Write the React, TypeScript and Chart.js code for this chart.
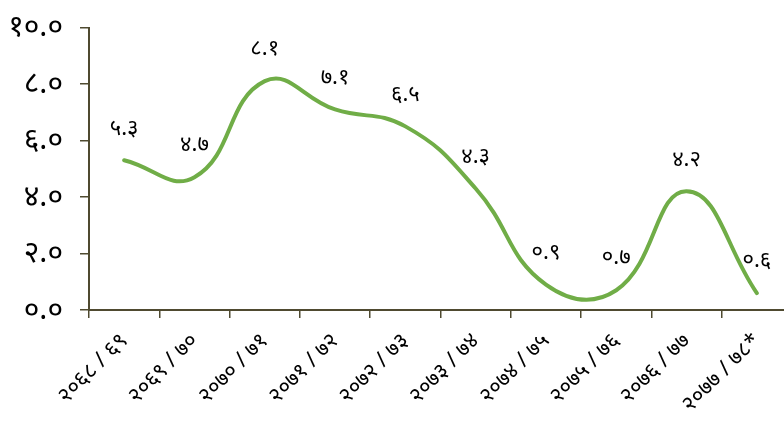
import React, { useEffect, useRef } from "react";
import { Chart, registerables } from "chart.js";

Chart.register(...registerables);

const categories = [
  "२०६८ / ६९",
  "२०६९ / ७०",
  "२०७० / ७१",
  "२०७१ / ७२",
  "२०७२ / ७३",
  "२०७३ / ७४",
  "२०७४ / ७५",
  "२०७५ / ७६",
  "२०७६ / ७७",
  "२०७७ / ७८*",
];
const values = [5.3, 4.7, 8.1, 7.1, 6.5, 4.3, 0.9, 0.7, 4.2, 0.6];
const valueLabels = ["५.३", "४.७", "८.१", "७.१", "६.५", "४.३", "०.९", "०.७", "४.२", "०.६"];
const yTickLabels = ["०.०", "२.०", "४.०", "६.०", "८.०", "१०.०"];

const AXIS = "#4f4a30";
const LINE = "#70ad47";
const FONT = "'Noto Sans', 'DejaVu Sans', sans-serif";

const labelPlugin = {
  id: "valueLabels",
  afterDatasetsDraw(chart: any) {
    const meta = chart.getDatasetMeta(0);
    const ctx = chart.ctx;
    ctx.save();
    ctx.fillStyle = "#000";
    ctx.font = `22px ${FONT}`;
    ctx.textAlign = "center";
    ctx.textBaseline = "middle";
    meta.data.forEach((pt: any, i: number) => {
      ctx.fillText(valueLabels[i], pt.x, pt.y - 32);
    });
    ctx.restore();
  },
};

export default function App() {
  const ref = useRef<HTMLCanvasElement>(null);
  useEffect(() => {
    if (!ref.current) return;
    const chart = new Chart(ref.current, {
      type: "line",
      data: {
        labels: categories,
        datasets: [
          {
            data: values,
            borderColor: LINE,
            borderWidth: 4,
            tension: 0.45,
            pointRadius: 0,
            fill: false,
            borderCapStyle: "round",
          },
        ],
      },
      options: {
        animation: false,
        responsive: false,
        maintainAspectRatio: false,
        layout: { padding: { top: 25, right: 8, left: 0, bottom: 0 } },
        plugins: { legend: { display: false }, tooltip: { enabled: false } },
        scales: {
          x: {
            offset: true,
            grid: {
              offset: true,
              drawOnChartArea: false,
              tickLength: 8,
              color: AXIS,
              lineWidth: 1.5,
            },
            border: { color: AXIS, width: 2 },
            ticks: {
              color: "#000",
              font: { family: FONT, size: 22 },
              minRotation: 45,
              maxRotation: 45,
              autoSkip: false,
              padding: 10,
            },
            afterFit: (s: any) => {
              s.height = 111;
            },
          },
          y: {
            min: 0,
            max: 10,
            grid: {
              drawOnChartArea: false,
              tickLength: 9,
              color: AXIS,
              lineWidth: 1.5,
            },
            border: { color: AXIS, width: 2 },
            ticks: {
              stepSize: 2,
              color: "#000",
              padding: 17,
              font: { family: FONT, size: 30, lineHeight: 0.7 },
              callback: (_v: any, i: number) => yTickLabels[i],
            },
            afterFit: (s: any) => {
              s.width = 89;
            },
          },
        },
      },
      plugins: [labelPlugin],
    });
    return () => chart.destroy();
  }, []);
  return (
    <div
      style={{
        position: "fixed",
        left: 0,
        top: 0,
        width: 784,
        height: 421,
        overflow: "hidden",
        background: "#fff",
      }}
    >
      <canvas ref={ref} width={800} height={421} style={{ width: 800, height: 421 }} />
    </div>
  );
}
